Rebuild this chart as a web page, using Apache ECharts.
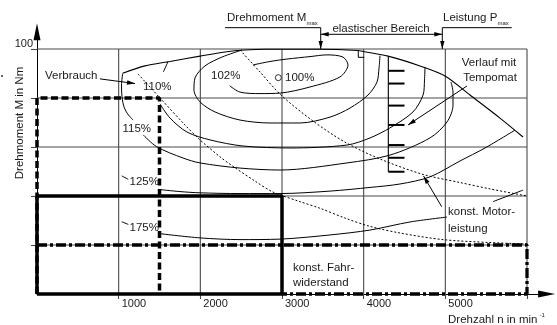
<!DOCTYPE html>
<html><head><meta charset="utf-8">
<script src="https://cdn.jsdelivr.net/npm/echarts@6/dist/echarts.min.js"></script>
<style>html,body{margin:0;padding:0;background:#fff}#c{width:557px;height:325px}</style>
</head><body><div id="c"></div>
<script>
// ---------------- data ----------------
const xTicks = [1000, 2000, 3000, 4000, 5000, 6000];
const xTickLabels = [1000, 2000, 3000, 4000, 5000];
const yTicks = [20, 40, 60, 80, 100];
const yTickLabels = [100];

// full-load torque curve (rpm, Nm)
const fullLoad = [[1049,90.1],[1322,93.1],[1629,94.9],[1996,97.1],[2302,98.8],[2547,99.6],[2792,99.9],[3465,99.9],[3930,99.4],[4008,98.9],[4298,97.1],[4690,93.1],[4996,89.0],[5302,81.2],[5669,71.8],[5951,64.1]];
const fullLoadNotch = [[3934,99.4],[3934,96.6],[4008,96.6]];

// consumption contours
const c102 = [[2645,93.5],[2853,94.9],[3061,95.9],[3343,96.9],[3551,97.6],[3747,96.7],[3808,93.5],[3710,88.6],[3343,84.5],[2976,82.0],[2731,81.8],[2486,82.4],[2360,85.0]];
const c105 = [[2510,99.6],[2265,96.7],[2057,93.1],[1935,88.2],[1922,83.3],[1996,78.4],[2180,74.3],[2486,71.0],[2853,69.8],[3220,69.8],[3588,72.2],[3833,75.9],[4053,81.2],[4163,86.5],[4188,92.2],[4200,97.3]];
const c110a = [[1604,94.9],[1547,90.6]];
const c110b = [[1506,77.6],[1629,71.8],[1837,66.1],[2118,62.9],[2522,60.4],[3098,59.6],[3796,60.8],[4078,63.7],[4322,67.8],[4604,74.3],[4727,81.2],[4745,87.3],[4751,92.7]];
const c115a = [[1049,90.0],[1035,85.3],[1037,82.0],[1059,77.1],[1102,73.9],[1176,71.0]];
const c115b = [[1302,64.9],[1466,60.1],[1788,55.5],[1996,53.5],[2486,51.4],[2976,50.6],[3796,53.5],[4322,56.7],[4812,63.7],[5020,70.2],[5094,77.1],[5094,82.4],[5069,86.5]];
const c125a = [[1037,48.2],[1118,46.8]];
const c125b = [[1485,42.7],[1751,41.8],[1996,41.3],[2486,41.0],[2976,41.0],[3588,42.0],[4078,43.5],[4445,44.9],[4812,47.8],[5180,54.3],[5486,59.6],[5853,66.9]];
const c175a = [[1037,29.5],[1118,28.4]];
const c175b = [[1485,24.7],[1996,22.9],[2486,22.2],[2976,22.4],[3588,24.1],[4078,26.1],[4567,29.4],[5020,31.4]];
const c175c = [[5584,37.7],[5951,42.4]];
const best100 = [[2955,88.3]];

// constant engine power (dotted)
const powerLow = [[1237,89.8],[1506,80.0],[1812,69.0],[1996,62.9],[2241,56.0],[2400,52.1],[2669,46.1],[2890,41.6],[3220,37.7],[3465,35.0],[3771,31.0],[4078,27.6],[4445,24.9],[4971,22.2],[5547,21.0],[6000,20.4]];
const powerHigh = [[2486,99.6],[2731,90.6],[2988,81.2],[3380,70.6],[3771,62.0],[4200,55.1],[4727,48.8],[5180,45.5],[5547,42.9],[6000,40.0]];

// operating ranges
const rectDashed = [[0,0],[0,80],[1500,80],[1500,0]];
const rectThick = [[0,0],[0,40],[3000,40],[3000,0],[0,0]];
const rectDashDot = [[0,20],[6000,20],[6000,0],[3000,0]];

// cruise control staircase
const ladderN = 4302, ladderTickN = 4500, ladderTop = 96.9;
const ladderSteps = [91.1, 85.9, 76.9, 69.0, 60.8, 55.6, 49.9];

// header marks
const nMmax = 3474, nPmax = 4963;
const headLevel = 108.7, elastLevel = 106.0;
const underlineM = [[2302,108.7],[3474,108.7]];
const underlineP = [[4963,108.7],[5813,108.7]];

// arrows: [from, to, both]
const arrows = [
  [[771,87.8],[1200,85.9],false],
  [[5265,84.9],[4543,69.0],false],
  [[4956,35.6],[4733,48.2],false],
  [[nMmax,headLevel],[nMmax,100],false],
  [[nPmax,headLevel],[nPmax,100],false],
  [[nMmax,elastLevel],[nPmax,elastLevel],true]
];

// ---------------- chart ----------------
const FONT = 'Liberation Sans, Arial, sans-serif';
const TXT = '#1a1a1a';
const GRIDC = '#4a4a4a';
const FS = 11.5;
const chart = echarts.init(document.getElementById('c'), null, {renderer:'canvas'});

function L(data, style, opts) {
  return Object.assign({type:'line', data:data, symbol:'none', showSymbol:false, silent:true,
    animation:false, clip:false, z:3,
    lineStyle:Object.assign({color:'#000', width:1}, style)}, opts || {});
}
const series = [];
xTicks.forEach(v => series.push(L([[v,0],[v,100]], {color:GRIDC, width:1.1}, {z:1})));
yTicks.forEach(v => series.push(L([[0,v],[6000,v]], {color:GRIDC, width:1.1}, {z:1})));

series.push(L(fullLoad, {width:1.1}, {smooth:0.3}));
series.push(L(fullLoadNotch, {width:1}));
[c102, c105, c110a, c110b, c115a, c115b, c125a, c125b, c175a, c175b, c175c].forEach(c =>
  series.push(L(c, {width:1}, {smooth:0.3})));
series.push(L(powerLow, {width:1, type:[2,2]}, {smooth:0.3}));
series.push(L(powerHigh, {width:1, type:[2,2]}, {smooth:0.3}));

series.push(L([[ladderN,ladderTop],[ladderN,ladderSteps[ladderSteps.length-1]]], {width:1.1}));
ladderSteps.forEach(m => series.push(L([[ladderN,m],[ladderTickN,m]], {width:2})));

series.push(L(rectDashDot, {width:3.3, type:[10,3,3,3]}, {z:5}));
series.push(L(rectDashed, {width:3.5, type:[7,3.5]}, {z:5}));
series.push(L(rectThick, {width:3.5}, {z:6}));

series.push(L(underlineM, {width:1}));
series.push(L(underlineP, {width:1}));
arrows.forEach(a => series.push(L([a[0], a[1]], {width:1})));

series.push({type:'scatter', data:best100, symbol:'circle', symbolSize:6, silent:true, animation:false, z:7,
  itemStyle:{color:'#fff', borderColor:'#000', borderWidth:1}});

chart.setOption({
  animation:false,
  grid:{left:37, top:31.85, width:509.6, height:262.15},
  xAxis:{type:'value', min:0, max:6240,
    axisLine:{show:true, onZero:false, symbol:['none','triangle'], symbolSize:[7,17], lineStyle:{color:'#000', width:1}},
    axisTick:{show:true, customValues:xTicks, length:5, lineStyle:{color:GRIDC, width:1.1}},
    axisLabel:{show:true, customValues:xTickLabels, formatter:v => String(v), align:'left', margin:4, padding:[0,0,0,3], fontSize:11, color:TXT, fontFamily:FONT},
    splitLine:{show:false}},
  yAxis:{type:'value', min:0, max:107,
    axisLine:{show:true, onZero:false, symbol:['none','triangle'], symbolSize:[7,17], lineStyle:{color:'#000', width:1}},
    axisTick:{show:true, customValues:yTicks, length:6, lineStyle:{color:GRIDC, width:1.1}},
    axisLabel:{show:true, customValues:yTickLabels, formatter:v => String(v), margin:4, verticalAlign:'bottom', fontSize:11, color:TXT, fontFamily:FONT},
    splitLine:{show:false}},
  series:series
});

function T(text, x, y, o) {
  return {type:'text', x:x, y:y, silent:true, z:20,
    style:Object.assign({text:text, fill:TXT, fontSize:FS, fontFamily:FONT, align:'left', verticalAlign:'middle'}, o || {})};
}
const texts = [
  T('Verbrauch', 45, 76),
  T('110%', 143, 87),
  T('102%', 211, 76),
  T('100%', 285, 78),
  T('115%', 122.5, 129),
  T('125%', 129.5, 182),
  T('175%', 129.5, 228),
  T('Verlauf mit', 489, 63, {align:'center'}),
  T('Tempomat', 490, 78, {align:'center'}),
  T('konst. Motor-', 448, 212),
  T('leistung', 448, 228.5),
  T('konst. Fahr-', 293, 267.5),
  T('widerstand', 293, 282.5),
  T('Drehmoment M', 227, 18),
  T('max', 306.5, 23.5, {fontSize:6}),
  T('elastischer Bereich', 381, 28.5, {align:'center'}),
  T('Leistung P', 443, 18),
  T('max', 497.5, 23.5, {fontSize:6}),
  T('Drehzahl n in min', 448, 319.5),
  T('-1', 539.5, 315.5, {fontSize:6}),
  {type:'text', x:20, y:123, rotation:Math.PI/2, silent:true, z:20,
    style:{text:'Drehmoment M in Nm', fill:TXT, fontSize:FS, fontFamily:FONT, align:'center', verticalAlign:'middle'}},
  T('n', 0, 327, {fontSize:18, verticalAlign:'alphabetic'}),
  {type:'circle', shape:{cx:2, cy:76, r:1}, style:{fill:'#333'}, silent:true}
];

function head(p0, p1, len, hw) {
  const dx = p1[0]-p0[0], dy = p1[1]-p0[1];
  const d = Math.sqrt(dx*dx+dy*dy) || 1;
  const ux = dx/d, uy = dy/d;
  const bx = p1[0]-ux*len, by = p1[1]-uy*len;
  return [[p1[0],p1[1]],[bx-uy*hw, by+ux*hw],[bx+uy*hw, by-ux*hw]];
}
const heads = [];
arrows.forEach(a => {
  const p0 = chart.convertToPixel({gridIndex:0}, a[0]);
  const p1 = chart.convertToPixel({gridIndex:0}, a[1]);
  heads.push(head(p0, p1, 8, 2.2));
  if (a[2]) heads.push(head(p1, p0, 8, 2.2));
});
chart.setOption({graphic: texts.concat(heads.map(pts => ({type:'polygon', shape:{points:pts}, style:{fill:'#000'}, silent:true, z:15})))});
</script>
</body></html>
